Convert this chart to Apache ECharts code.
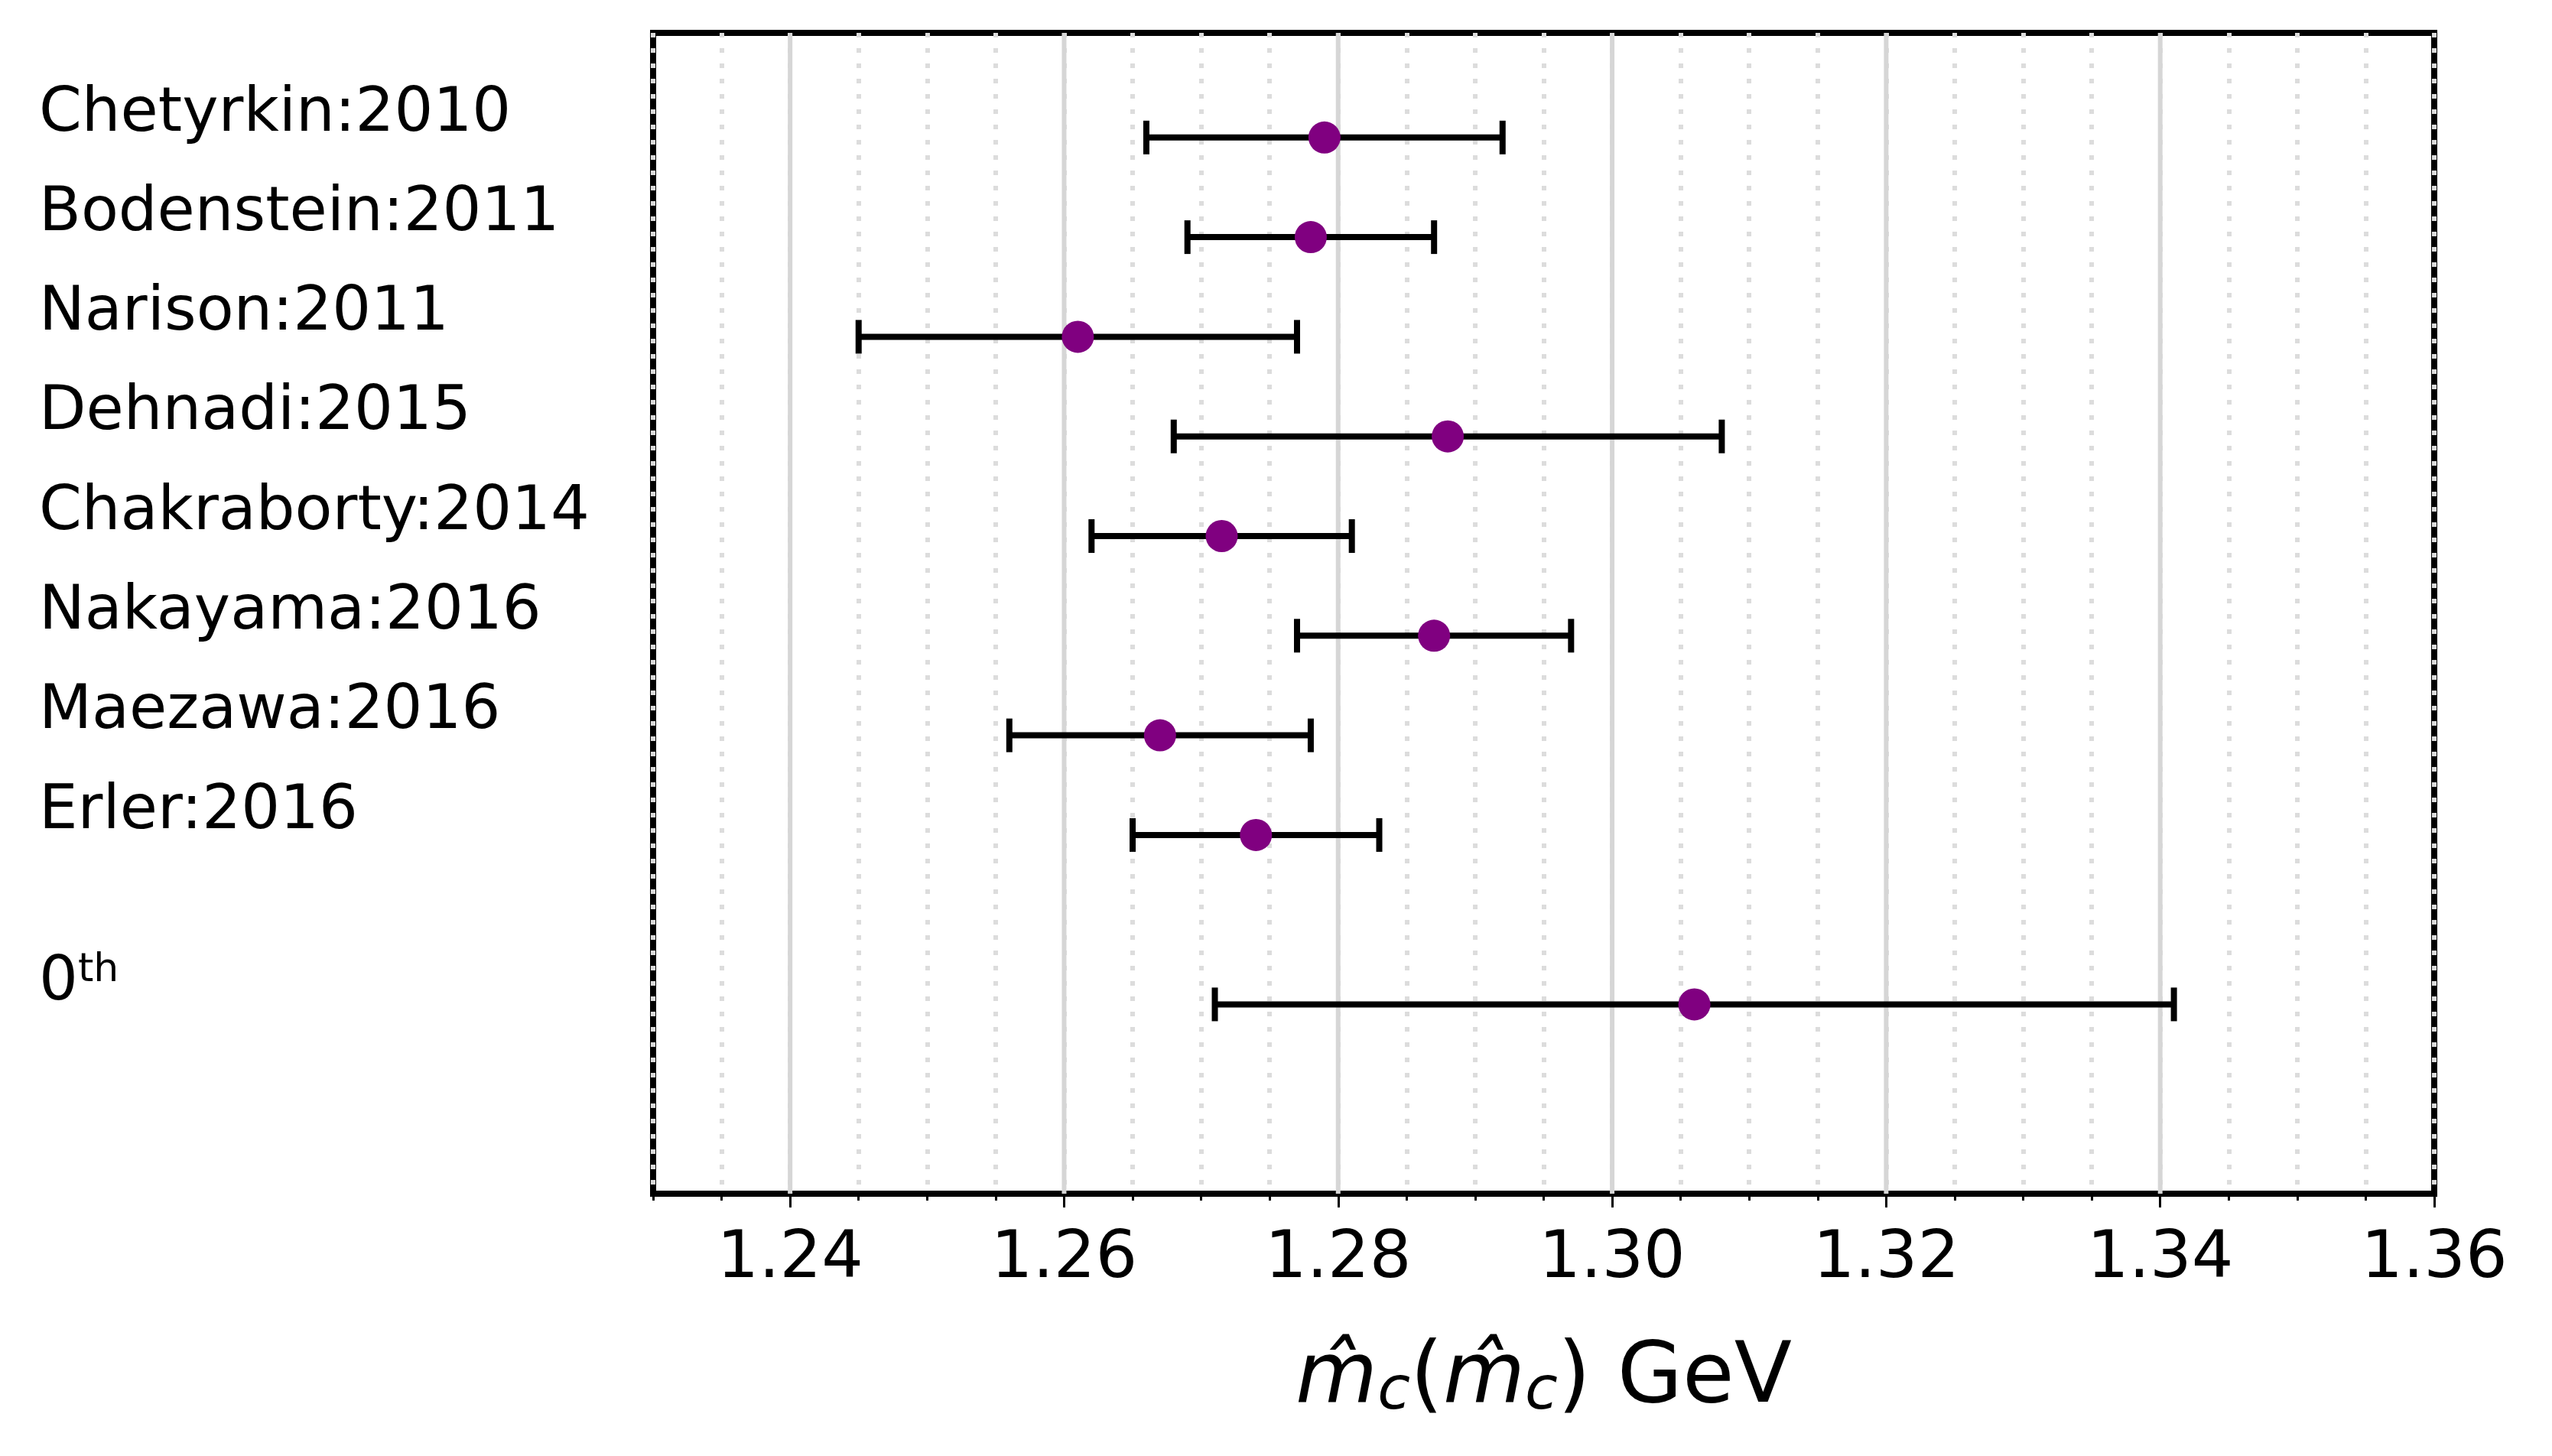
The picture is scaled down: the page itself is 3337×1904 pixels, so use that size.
<!DOCTYPE html>
<html><head><meta charset="utf-8">
<script src="https://cdn.jsdelivr.net/npm/echarts@6/dist/echarts.min.js"></script>
<style>html,body{margin:0;padding:0;background:#fff}#c{width:3337px;height:1904px}</style>
</head><body><div id="c"></div>
<script>
const names = ['Chetyrkin:2010','Bodenstein:2011','Narison:2011','Dehnadi:2015','Chakraborty:2014','Nakayama:2016','Maezawa:2016','Erler:2016','0th'];
const rows = [0,1,2,3,4,5,6,7,8.7];
const centers = [1.279,1.278,1.261,1.288,1.2715,1.287,1.267,1.274,1.306];
const lows = [1.266,1.269,1.245,1.268,1.262,1.277,1.256,1.265,1.271];
const highs = [1.292,1.287,1.277,1.308,1.281,1.297,1.278,1.283,1.341];
const majorTicks = [1.24,1.26,1.28,1.30,1.32,1.34,1.36];

const chart = echarts.init(document.getElementById('c'));
const T=43, B=1561, L=854, R=3183;
chart.setOption({
  animation:false,
  grid: {left:L, right:3337-R, top:T, bottom:1904-B, show:true, borderColor:'#000', borderWidth:8, backgroundColor:'transparent'},
  xAxis: [{
    type:'value', min:1.23, max:1.36, interval:0.005,
    axisLine:{show:false, onZero:false},
    axisTick:{show:true, length:9, lineStyle:{color:'#000', width:3}},
    splitLine:{show:true, lineStyle:{color:'#dcdcdc', width:6, type:[6,14]}},
    axisLabel:{show:true, fontSize:86, color:'#000', margin:44, fontFamily:'DejaVu Sans',
      formatter:v=>{const k=Math.round(v*1000); return k%20===0 ? (k/1000).toFixed(2) : '';}},
    name:'{i|m̂}{s|c}{n|(}{i|m̂}{s|c}{n|) GeV}', nameLocation:'middle', nameGap:186,
    nameTextStyle:{rich:{
      i:{fontSize:110, fontStyle:'italic', fontFamily:'DejaVu Sans', color:'#000'},
      s:{fontSize:78, fontStyle:'italic', fontFamily:'DejaVu Sans', color:'#000', verticalAlign:'bottom', padding:[36,0,0,0]},
      n:{fontSize:110, fontFamily:'DejaVu Sans', color:'#000'}}}
  },{
    type:'value', min:1.23, max:1.36, position:'bottom',
    axisLine:{show:false, onZero:false},
    axisTick:{show:true, length:18, customValues:majorTicks, lineStyle:{color:'#000', width:3}},
    axisLabel:{show:false}, splitLine:{show:false}
  }],
  yAxis:{type:'value', inverse:true, min:-1.05, max:10.6, show:false},
  series:[{
    type:'custom', xAxisIndex:1, z:1, silent:true,
    data: majorTicks.slice(0,-1).map(v=>[v]),
    renderItem:(p,api)=>{
      const x=api.coord([api.value(0),0])[0];
      return {type:'line', shape:{x1:x,y1:T,x2:x,y2:B}, style:{stroke:'#d6d6d6', lineWidth:6}};
    }
  },{
    type:'custom', z:3,
    data: rows.map((r,i)=>[lows[i],highs[i],r]),
    renderItem:(p,api)=>{
      const a=api.coord([api.value(0),api.value(2)]), b=api.coord([api.value(1),api.value(2)]);
      const h=22, st={stroke:'#000', lineWidth:8};
      return {type:'group', children:[
        {type:'line', shape:{x1:a[0],y1:a[1],x2:b[0],y2:b[1]}, style:st},
        {type:'line', shape:{x1:a[0],y1:a[1]-h,x2:a[0],y2:a[1]+h}, style:st},
        {type:'line', shape:{x1:b[0],y1:b[1]-h,x2:b[0],y2:b[1]+h}, style:st}]};
    }
  },{
    type:'scatter', z:5, symbolSize:42, itemStyle:{color:'#800080', opacity:1},
    data: rows.map((r,i)=>[centers[i],r])
  }]
});
const texts = rows.map((r,i)=>{
  const y = chart.convertToPixel({yAxisIndex:0}, r) - 26;
  const isSup = names[i]==='0th';
  return {type:'text', left:51, top:y-44, style:{
    text: isSup ? '{a|0}{b|th}' : names[i],
    font:'80px "DejaVu Sans"', fill:'#000',
    rich:{a:{fontSize:80, fontFamily:'DejaVu Sans', color:'#000'}, b:{fontSize:52, fontFamily:'DejaVu Sans', color:'#000', verticalAlign:'top', padding:[0,0,34,0]}}
  }};
});
chart.setOption({graphic:texts});
</script></body></html>
